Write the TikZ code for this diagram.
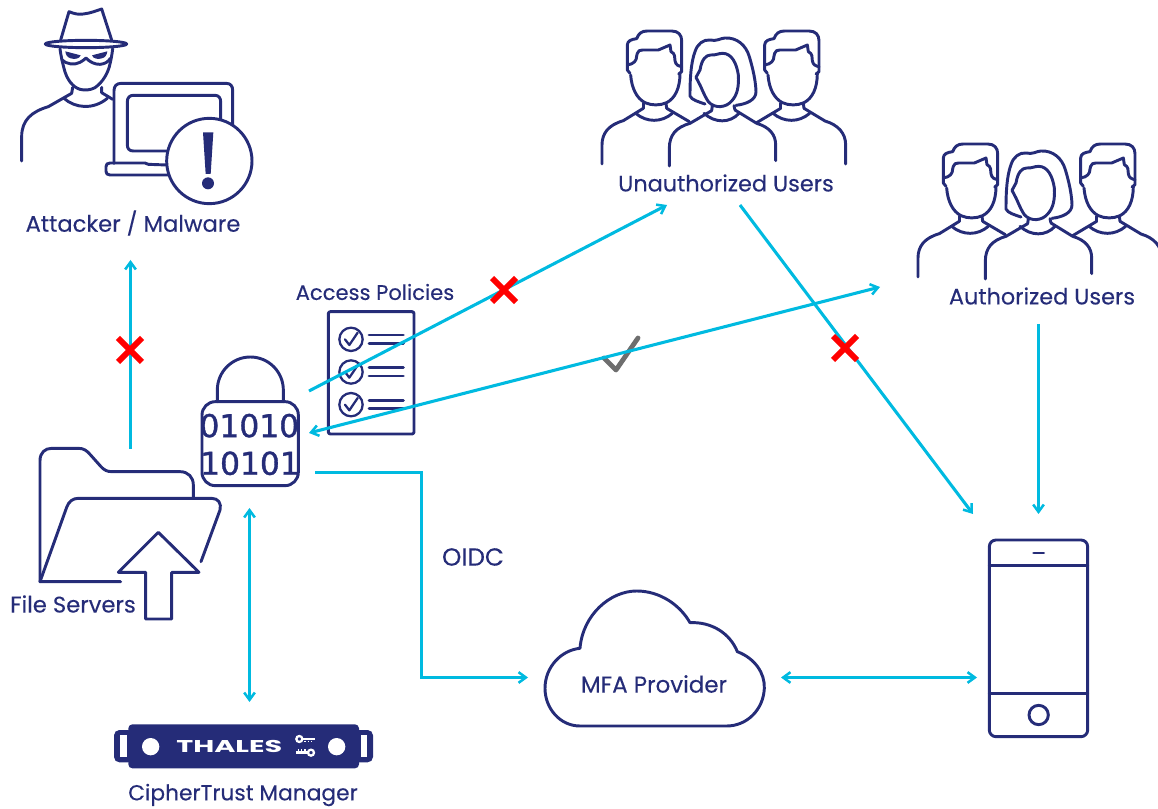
\documentclass[tikz,border=0pt]{standalone}
\usepackage{fontspec}
\setmainfont{Poppins}[FakeBold=0.2]
\newfontfamily\lockfont{DejaVu Sans}[FakeBold=1.2]
\newfontfamily\logofont{Poppins}
\usetikzlibrary{arrows.meta}
\definecolor{navy}{RGB}{37,44,120}
\definecolor{cyanline}{RGB}{0,186,224}
\tikzset{
  icon/.style={draw=navy,line width=2.2pt,line join=round,line cap=round,fill=none},
  thin icon/.style={draw=navy,line width=1.7pt,line join=round,line cap=round,fill=none},
  conn/.style={draw=cyanline,line width=2.3pt},
  tip/.style={-{Straight Barb[length=5.5pt,width=8pt,line width=1.9pt]}},
  both tip/.style={{Straight Barb[length=5.5pt,width=8pt,line width=1.9pt]}-{Straight Barb[length=5.5pt,width=8pt,line width=1.9pt]}},
  redx/.style={draw=red,line width=4.4pt},
  lbl/.style={text=navy,inner sep=0pt,anchor=center},
  zoomed/.style={x=0.25pt,y=-0.25pt},
  pics/people/.style={code={
    \begin{scope}[zoomed]
    \foreach \dx in {0,412}{
      \begin{scope}[xshift=\dx*0.25pt]
      \path[icon] (120,160) -- (112,150) -- (112,75) .. controls (112,62) and (125,58) .. (140,56) .. controls (146,40) and (155,33) .. (172,33) -- (245,33) .. controls (265,33) and (275,45) .. (275,62) -- (275,155) -- (266,162);
      \path[icon] (112,135) .. controls (132,132) and (140,122) .. (140,108) -- (142,100) .. controls (144,92) and (150,90) .. (158,90) -- (205,90) -- (240,75) -- (243,95) .. controls (255,100) and (255,112) .. (255,122) .. controls (257,135) and (265,138) .. (275,140);
      \path[icon] (122,165) .. controls (125,205) and (140,235) .. (165,248) .. controls (185,257) and (210,257) .. (230,248) .. controls (255,235) and (270,205) .. (270,160);
      \path[icon] (160,250) -- (160,265);
      \path[icon] (228,250) -- (230,265);
      \path[icon] (137,280) .. controls (170,308) and (215,308) .. (247,280);
      \end{scope}}
    \path[icon] (160,265) -- (100,302) .. controls (55,315) and (36,340) .. (36,375) -- (36,432);
    \path[icon] (230,265) -- (298,305);
    \path[icon] (572,265) -- (500,308);
    \path[icon] (642,265) -- (705,303) .. controls (745,315) and (767,340) .. (767,375) -- (767,432);
    \path[icon] (345,252) .. controls (325,245) and (305,240) .. (300,228) .. controls (300,180) and (302,130) .. (315,95) .. controls (322,72) and (340,58) .. (360,60) .. controls (380,65) and (390,55) .. (405,54) .. controls (440,52) and (468,75) .. (478,110) .. controls (490,150) and (497,185) .. (498,215) .. controls (498,240) and (470,252) .. (438,256);
    \path[icon] (318,172) -- (330,150) .. controls (335,118) and (348,105) .. (362,105) .. controls (378,106) and (385,100) .. (398,100) .. controls (425,100) and (440,130) .. (445,165) .. controls (447,200) and (442,225) .. (425,243) .. controls (410,262) and (375,268) .. (355,245) .. controls (342,225) and (335,205) .. (330,195) -- (318,172);
    \path[icon] (367,257) -- (365,272);
    \path[icon] (432,257) -- (435,270);
    \path[icon] (342,280) .. controls (375,310) and (420,310) .. (447,280);
    \path[icon] (365,272) -- (300,310) .. controls (258,322) and (238,345) .. (238,385) -- (238,438);
    \path[icon] (435,270) -- (500,310) .. controls (540,322) and (557,345) .. (557,375) -- (557,422);
    \end{scope}
  }}
}
\begin{document}
\begin{tikzpicture}[x=0.75pt,y=-0.75pt]
\useasboundingbox (0,0) rectangle (1158,809);

% ---------- connector end points
\coordinate (fileOut) at (130.5,449);
\coordinate (attackerIn) at (130.5,260);
\coordinate (lockOutA) at (309,391);
\coordinate (unauthIn) at (667,205);
\coordinate (lockIn) at (309,433);
\coordinate (authIn) at (880,287);
\coordinate (unauthOut) at (740,205);
\coordinate (phoneInA) at (973,514);
\coordinate (authOut) at (1038.5,324);
\coordinate (phoneInB) at (1038.5,514);
\coordinate (lockBottom) at (249.5,508);
\coordinate (ctmTop) at (249.5,702);
\coordinate (lockOutB) at (315,472.5);
\coordinate (oidcBendA) at (421.5,472.5);
\coordinate (oidcBendB) at (421.5,677.5);
\coordinate (mfaIn) at (528,677.5);
\coordinate (mfaOut) at (781,677.5);
\coordinate (phoneIn) at (977,677.5);

% ---------- attacker
\begin{scope}[zoomed]
\path[icon] (182,120) -- (207,35) .. controls (225,42) and (235,44) .. (250,42) .. controls (270,40) and (290,32) .. (305,27) -- (335,120);
\path[icon] (258,132) ellipse [x radius=122,y radius=11];
\path[icon] (180,146) .. controls (183,170) and (188,190) .. (192,205) .. controls (200,240) and (220,262) .. (240,268) .. controls (255,272) and (272,270) .. (285,263) .. controls (310,245) and (322,220) .. (328,200) .. controls (333,180) and (336,165) .. (338,146);
\path[icon] (185,178) .. controls (200,195) and (225,195) .. (240,187) .. controls (248,183) and (254,178) .. (258,174) .. controls (268,185) and (285,194) .. (300,193) .. controls (315,192) and (325,185) .. (331,175);
\path[fill=navy] (196,154) -- (242,166) .. controls (238,178) and (222,178) .. (212,175) .. controls (202,172) and (197,165) .. (196,154) -- cycle;
\path[fill=navy] (322,154) -- (276,166) .. controls (280,178) and (296,178) .. (306,175) .. controls (316,172) and (321,165) .. (322,154) -- cycle;
\path[icon] (218,262) -- (215,280) -- (145,320) .. controls (95,335) and (65,360) .. (65,410) -- (65,483);
\path[icon] (305,262) -- (305,278) -- (338,298);
\path[icon] (192,295) .. controls (225,325) and (280,330) .. (322,295);
\path[icon] (342,490) -- (342,272) .. controls (342,258) and (350,250) .. (364,250) -- (678,250) .. controls (692,250) and (698,258) .. (698,272) -- (698,385);
\path[icon] (500,453) -- (400,453) .. controls (388,453) and (382,446) .. (382,435) -- (382,305) .. controls (382,292) and (390,286) .. (400,286) -- (645,286) .. controls (656,286) and (662,294) .. (662,305) -- (662,360);
\path[icon] (500,495) -- (445,493) -- (435,489) -- (330,489) .. controls (322,489) and (318,493) .. (318,500) -- (318,514) .. controls (318,521) and (322,525) .. (330,525) -- (505,525);
\path[icon,fill=white] (628,483) circle [radius=128];
\path[fill=navy] (609,397) -- (640,397) -- (632,522) -- (617,522) -- cycle;
\path[fill=navy] (624,550) circle [radius=18];
\end{scope}
\node[lbl,font=\fontsize{17pt}{20pt}\selectfont] (attacker) at (133,223) {Attacker / Malware};

% ---------- user groups
\pic at (590,20) {people};
\node[lbl,font=\fontsize{16.8pt}{20pt}\selectfont] (unauth) at (726,183) {Unauthorized Users};
\pic at (906,133) {people};
\node[lbl,font=\fontsize{16.8pt}{20pt}\selectfont] (auth) at (1042,296) {Authorized Users};

% ---------- policies, lock, folder
\node[lbl,font=\fontsize{15.8pt}{20pt}\selectfont] (policies) at (375,292) {Access Policies};
\begin{scope}[yshift=-202.5pt,zoomed]
\path[icon,rounded corners=1.5pt] (985,125) rectangle (1242,492);
\foreach \cy in {208,306,404}{
  \path[thin icon] (1053,\cy) circle [radius=35];
  \path[thin icon] (1035,\cy) -- (1048,\cy+17) -- (1073,\cy-20);
  \path[icon] (1107,\cy-13) -- (1210,\cy-13);
  \path[icon] (1107,\cy+12) -- (1210,\cy+12);
}
\path[icon] (652,395) -- (652,360) arc [start angle=180,end angle=360,radius=99] -- (850,395);
\path[icon,rounded corners=10pt] (606,395) rectangle (895,647);
\node[text=navy,inner sep=0pt,font=\lockfont\fontsize{23.5pt}{26pt}\selectfont] (code1) at (748,467) {01010};
\node[text=navy,inner sep=0pt,font=\lockfont\fontsize{23.5pt}{26pt}\selectfont] (code2) at (750,580) {10101};
\path[icon] (120,935) -- (120,572) .. controls (120,548) and (135,535) .. (155,535) -- (235,535) .. controls (252,535) and (260,542) .. (270,553) -- (303,590) .. controls (312,600) and (322,605) .. (335,605) -- (540,605) .. controls (565,605) and (580,622) .. (580,645) -- (580,685);
\path[icon] (362,935) -- (120,935) -- (200,712) .. controls (206,695) and (218,685) .. (235,685) -- (635,685) .. controls (655,685) and (665,700) .. (660,720) -- (603,875);
\path[icon] (475,787) -- (597,907) -- (515,907) -- (515,1047) -- (437,1047) -- (437,907) -- (355,907) -- cycle;
\end{scope}
\node[lbl,font=\fontsize{17pt}{20pt}\selectfont] (files) at (73,604) {File Servers};

% ---------- phone
\begin{scope}[shift={(960,520)},zoomed]
\path[icon,rounded corners=5pt] (88,60) rectangle (383,650);
\path[icon] (88,137) -- (383,137);
\path[icon] (88,520) -- (383,520);
\path[icon] (221,99) -- (251,99);
\path[icon] (236,585) circle [radius=29];
\end{scope}

% ---------- cloud
\begin{scope}[shift={(530,580)},zoomed]
\path[icon] (150,205) .. controls (158,105) and (240,33) .. (320,33) .. controls (390,33) and (450,75) .. (480,128) .. controls (545,125) and (600,160) .. (622,215) .. controls (675,235) and (705,280) .. (703,325) .. controls (700,390) and (650,438) .. (590,438) -- (150,438) .. controls (90,438) and (45,385) .. (45,325) .. controls (45,260) and (95,210) .. (150,205) -- cycle;
\end{scope}
\node[lbl,font=\fontsize{17.2pt}{20pt}\selectfont] (mfa) at (654,684) {MFA Provider};

% ---------- CipherTrust appliance
\begin{scope}[shift={(100,700)},zoomed]
\path[fill=navy,rounded corners=4pt] (42,90) rectangle (100,187);
\path[fill=navy,rounded corners=4pt] (762,90) rectangle (819,187);
\path[fill=white] (60,106) rectangle (80,172);
\path[fill=white] (782,106) rectangle (802,172);
\path[fill=navy,rounded corners=3pt] (85,73) rectangle (777,205);
\path[fill=white] (152,140) circle [radius=26];
\path[fill=white] (710,140) circle [radius=26];
\node[text=white,inner sep=0pt,font=\logofont\bfseries\fontsize{12.8pt}{14pt}\selectfont] (thales) at (388,140) {\scalebox{1.68}[1]{THALES}};
\path[draw=white,line width=1.7pt] (598,117) circle [radius=9];
\path[draw=white,line width=2.2pt] (608,117) -- (645,117);
\path[draw=white,line width=1.2pt] (615,122) -- (615,127) (625,122) -- (625,127) (635,122) -- (635,127);
\path[draw=white,line width=1.7pt] (633,158) circle [radius=9];
\path[draw=white,line width=2.2pt] (623,158) -- (587,158);
\path[draw=white,line width=1.2pt] (615,153) -- (615,148) (605,153) -- (605,148) (595,153) -- (595,148);
\end{scope}
\node[lbl,font=\fontsize{16.3pt}{20pt}\selectfont] (ctm) at (243,795) {CipherTrust Manager};

\node[lbl,font=\fontsize{18.5pt}{20pt}\selectfont] (oidc) at (473,557) {OIDC};

% ---------- approved check (below the connector)
\path[draw=black!57,line width=3.6pt,line cap=round,line join=round] (604,358) -- (616,370) -- (638,338);

% ---------- connectors
\draw[conn,tip] (fileOut) -- (attackerIn);
\draw[conn,tip] (lockOutA) -- (unauthIn);
\draw[conn,both tip] (lockIn) -- (authIn);
\draw[conn,tip] (unauthOut) -- (phoneInA);
\draw[conn,tip] (authOut) -- (phoneInB);
\draw[conn,both tip] (lockBottom) -- (ctmTop);
\draw[conn,tip] (lockOutB) -- (oidcBendA) -- (oidcBendB) -- (mfaIn);
\draw[conn,both tip] (mfaOut) -- (phoneIn);

% ---------- denied marks
\foreach \cx/\cy in {130/350,504/290,845/348}{
  \path[redx] (\cx-12,\cy-12) -- (\cx+12,\cy+12);
  \path[redx] (\cx-12,\cy+12) -- (\cx+12,\cy-12);
}
\end{tikzpicture}
\end{document}
